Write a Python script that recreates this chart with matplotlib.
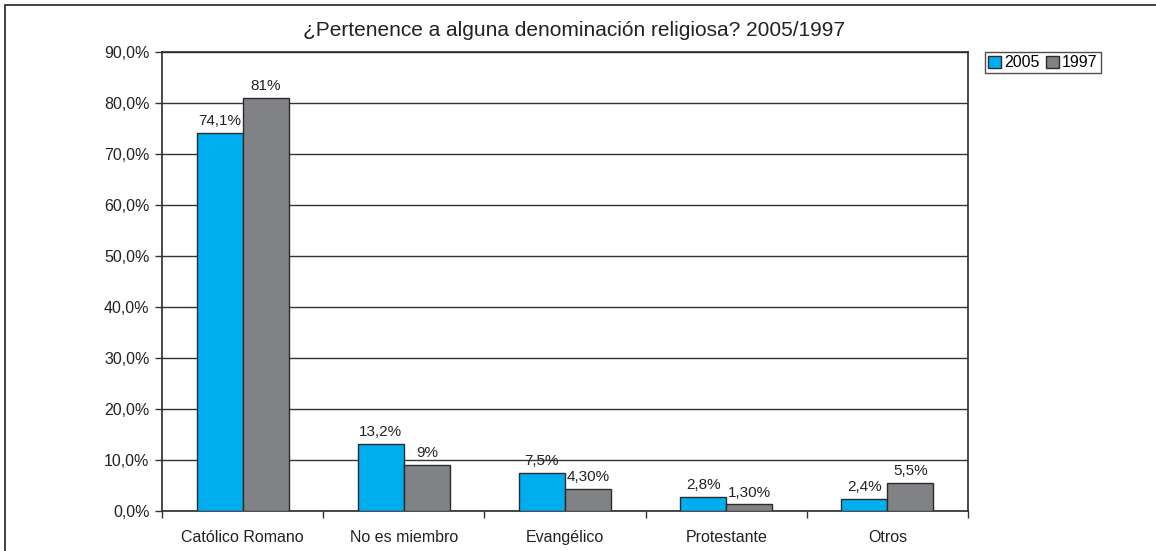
import matplotlib.pyplot as plt
import numpy as np
from matplotlib.patches import Rectangle

plt.rcParams['font.family'] = ['Liberation Sans', 'DejaVu Sans']

categories = ['Católico Romano', 'No es miembro', 'Evangélico', 'Protestante', 'Otros']
vals_2005 = [74.1, 13.2, 7.5, 2.8, 2.4]
vals_1997 = [81, 9, 4.3, 1.3, 5.5]
labels_2005 = ['74,1%', '13,2%', '7,5%', '2,8%', '2,4%']
labels_1997 = ['81%', '9%', '4,30%', '1,30%', '5,5%']
yticks = [0, 10, 20, 30, 40, 50, 60, 70, 80, 90]

fig = plt.figure(figsize=(11.56, 5.51), dpi=100)
ax = fig.add_axes([162 / 1156, 1 - 511 / 551, (968 - 162) / 1156, (511 - 52) / 551])

# outer chart frame (cut off on the right and bottom like the original)
fig.patches.append(Rectangle((5 / 1156, -0.01), 1.0, 1 - 5 / 551 + 0.01,
                             transform=fig.transFigure, fill=False, edgecolor='#222222', lw=1.2))

x = np.arange(len(categories))
w = 1 / 3.5
edge = '#2b2b2b'
b1 = ax.bar(x - w / 2, vals_2005, w, color='#00AEEF', edgecolor=edge, linewidth=1, label='2005', zorder=3)
b2 = ax.bar(x + w / 2, vals_1997, w, color='#808285', edgecolor=edge, linewidth=1, label='1997', zorder=3)

for bars, labs in [(b1, labels_2005), (b2, labels_1997)]:
    for r, t in zip(bars, labs):
        ax.annotate(t, (r.get_x() + r.get_width() / 2, r.get_height()), xytext=(0, 3.5),
                    textcoords='offset points', ha='center', va='bottom', fontsize=11, color='#222222')

ax.set_xlim(-0.5, len(categories) - 0.5)
ax.set_ylim(0, 90)
ax.set_yticks(yticks)
ax.set_yticklabels([f'{v:.1f}%'.replace('.', ',') for v in yticks], fontsize=11.5, color='#222222')
ax.yaxis.grid(True, color='#333333', linewidth=1, zorder=0)
ax.set_xticks(x)
ax.set_xticklabels(categories, fontsize=11.5, color='#222222')
ax.tick_params(axis='x', length=0, pad=14)
ax.set_xticks(np.arange(len(categories) + 1) - 0.5, minor=True)
ax.tick_params(axis='x', which='minor', length=5, width=1, color='#333333')
ax.tick_params(axis='y', length=5, width=1, color='#333333', pad=4)
for s in ax.spines.values():
    s.set_color('#2b2b2b')
    s.set_linewidth(1.2)

fig.text(0.4965, 1 - 31 / 551, '¿Pertenence a alguna denominación religiosa? 2005/1997',
         ha='center', va='center', fontsize=15, color='#222222')

ax.legend(loc='upper left', bbox_to_anchor=(985 / 1156, 1 - 52 / 551), bbox_transform=fig.transFigure,
          ncol=2, fontsize=11.5, frameon=True, fancybox=False, edgecolor='#222222',
          handlelength=0.8, handleheight=0.8, handletextpad=0.2, columnspacing=0.4,
          borderpad=0.2, borderaxespad=0)

fig.savefig('out.png', dpi=100)
